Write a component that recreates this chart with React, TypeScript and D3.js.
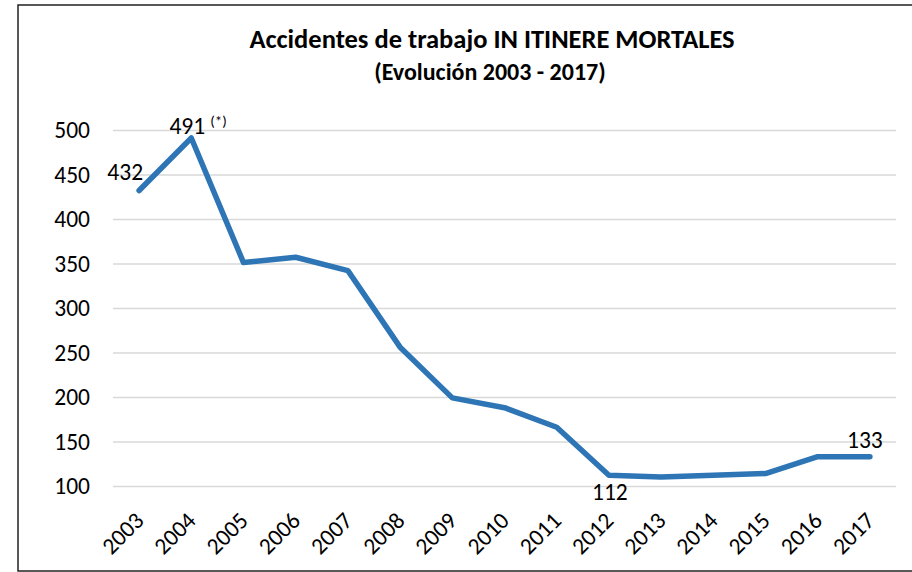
import * as d3 from 'd3';
import React, { useEffect, useRef } from 'react';

const years = ['2003', '2004', '2005', '2006', '2007', '2008', '2009', '2010', '2011', '2012', '2013', '2014', '2015', '2016', '2017'];
const deaths = [432, 491, 351, 357, 342, 256, 199, 188, 166, 112, 110, 112, 114, 133, 133];
const yTicks = [100, 150, 200, 250, 300, 350, 400, 450, 500];
const labelled = ['2003', '2004', '2012', '2017'];

const font = 'Carlito, Calibri, "Open Sans", sans-serif';

const App = () => {
	const ref = useRef<SVGSVGElement>(null);
	const width = 912;
	const height = 572;
	const margin = { top: 130, right: 16, bottom: 86, left: 113 };

	useEffect(() => {
		const svg = d3.select(ref.current);
		svg.selectAll('*').remove();

		const x: any = d3
			.scaleBand()
			.domain(years)
			.range([margin.left, width - margin.right]);
		const y = d3
			.scaleLinear()
			.domain([100, 500])
			.range([height - margin.bottom, margin.top]);

		svg.append('rect')
			.attr('x', 18)
			.attr('y', 5)
			.attr('width', 910)
			.attr('height', 566)
			.attr('fill', 'white')
			.attr('stroke', '#222')
			.attr('stroke-width', 1.5);

		svg.append('text')
			.attr('x', 492)
			.attr('y', 48)
			.attr('text-anchor', 'middle')
			.attr('font-family', font)
			.attr('font-weight', 'bold')
			.attr('font-size', 26.5)
			.text('Accidentes de trabajo IN ITINERE MORTALES');
		svg.append('text')
			.attr('x', 490)
			.attr('y', 80)
			.attr('text-anchor', 'middle')
			.attr('font-family', font)
			.attr('font-weight', 'bold')
			.attr('font-size', 24)
			.text('(Evolución 2003 - 2017)');

		const yAxis = svg.append('g').attr('transform', `translate(${margin.left},0)`)
			.call(d3.axisLeft(y).tickValues(yTicks).tickSize(-(width - margin.left - margin.right)).tickPadding(23));
		yAxis.select('.domain').remove();
		yAxis.selectAll('line').attr('stroke', '#d9d9d9').attr('stroke-width', 1.5);
		yAxis.selectAll('text').attr('font-family', font).attr('font-size', 23.5).attr('fill', '#000');

		const xAxis = svg.append('g').attr('transform', `translate(0,${height - margin.bottom})`)
			.call(d3.axisBottom(x).tickSize(0).tickPadding(0));
		xAxis.select('.domain').remove();
		xAxis.selectAll('text')
			.attr('font-family', font)
			.attr('font-size', 23.5)
			.attr('fill', '#000')
			.attr('text-anchor', 'end')
			.attr('dy', 0)
			.attr('transform', 'translate(6,36) rotate(-45)');

		const line = d3
			.line<number>()
			.x((d, i) => x(years[i]) + x.bandwidth() / 2)
			.y(d => y(d));

		svg.append('path')
			.datum(deaths)
			.attr('d', line)
			.attr('fill', 'none')
			.attr('stroke', '#2e75b6')
			.attr('stroke-width', 5.5)
			.attr('stroke-linejoin', 'round')
			.attr('stroke-linecap', 'round');

		const offsets: any = {
			'2003': { dx: 4, dy: -11, anchor: 'end' },
			'2004': { dx: -4, dy: -4, anchor: 'middle' },
			'2012': { dx: 1, dy: 25, anchor: 'middle' },
			'2017': { dx: -5, dy: -9, anchor: 'middle' },
		};
		labelled.forEach(yr => {
			const i = years.indexOf(yr);
			const o = offsets[yr];
			svg.append('text')
				.attr('x', x(yr) + x.bandwidth() / 2 + o.dx)
				.attr('y', y(deaths[i]) + o.dy)
				.attr('text-anchor', o.anchor)
				.attr('font-family', font)
				.attr('font-size', 23.5)
				.text(deaths[i]);
		});
		svg.append('text')
			.attr('x', x('2004') + x.bandwidth() / 2 + 19)
			.attr('y', y(491) - 12)
			.attr('font-family', font)
			.attr('font-size', 15)
			.text('(*)');
	}, []);

	return <svg ref={ref} width={width} height={height} style={{ position: 'absolute', left: 0, top: 0 }} />;
};

export default App;
